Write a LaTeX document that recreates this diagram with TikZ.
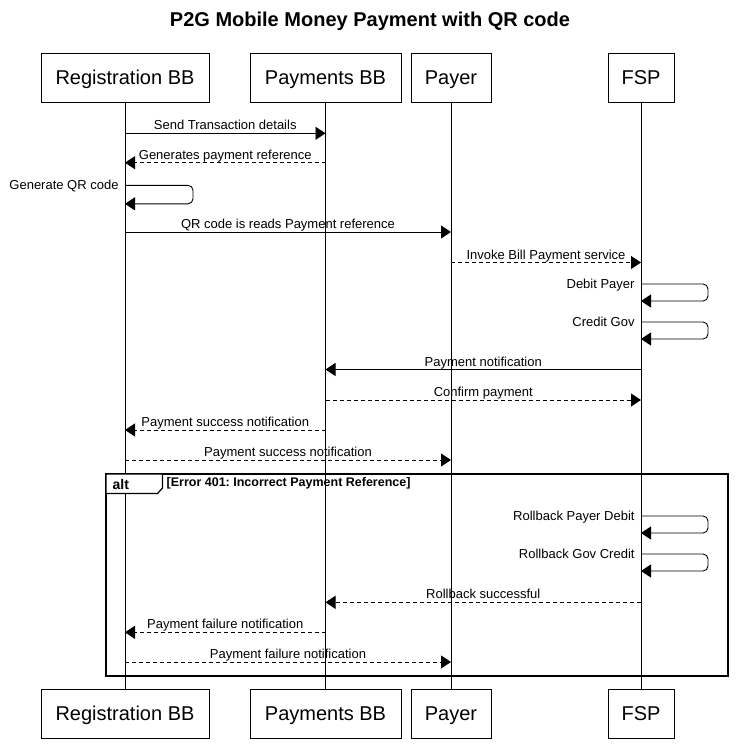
\documentclass[tikz,border=0pt]{standalone}
\usepackage{fontspec}
\setmainfont{Liberation Sans}
\usetikzlibrary{arrows.meta}
\frenchspacing
\begin{document}
\begin{tikzpicture}[x=1pt,y=-1pt,
  part/.style={draw, line width=0.9pt, minimum height=49pt, inner sep=0pt, text height=16.5pt, text depth=3.5pt, font=\fontsize{20}{24}\selectfont},
  life/.style={line width=0.9pt},
  msg/.style={line width=0.9pt, -{Triangle[length=10pt,width=13pt]}},
  reply/.style={msg, dash pattern=on 4pt off 3pt},
  lbl/.style={anchor=base, yshift=3.5pt, inner sep=0pt, font=\fontsize{13}{15}\selectfont},
  slbl/.style={anchor=base east, inner sep=0pt, xshift=-6pt, yshift=-4.5pt, font=\fontsize{13}{15}\selectfont},
  selfmsg/.style={msg, rounded corners=5pt},
  frame/.style={line width=1.6pt},
]
\useasboundingbox (0,0) rectangle (738,748);
\node[font=\bfseries\fontsize{20}{24}\selectfont, inner sep=0pt] (title) at (370,21.5) {P2G Mobile Money Payment with QR code};

% participants
\node[part, minimum width=168pt] (reg) at (125,77.5) {Registration BB};
\node[part, minimum width=151pt] (pay) at (325.5,77.5) {Payments BB};
\node[part, minimum width=80pt] (payer) at (451,77.5) {Payer};
\node[part, minimum width=66pt] (fsp) at (641,77.5) {FSP};
\node[part, minimum width=168pt] (regb) at (125,713.5) {Registration BB};
\node[part, minimum width=151pt] (payb) at (325.5,713.5) {Payments BB};
\node[part, minimum width=80pt] (payerb) at (451,713.5) {Payer};
\node[part, minimum width=66pt] (fspb) at (641,713.5) {FSP};

% lifelines
\draw[life] (reg) -- (regb);
\draw[life] (pay) -- (payb);
\draw[life] (payer) -- (payerb);
\draw[life] (fsp) -- (fspb);

% alt frame
\draw[frame] (106,474) rectangle (728,676);
\draw[line width=1.2pt, fill=white] (106,474) -- (162.5,474) -- (162.5,488) -- (157.5,493.5) -- (106,493.5) -- cycle;
\node[anchor=base west, inner sep=0pt, font=\bfseries\fontsize{14}{16}\selectfont] (altlbl) at (112.5,489) {alt};
\node[anchor=base west, inner sep=0pt, font=\bfseries\fontsize{12.5}{15}\selectfont] (cond) at (166.5,486.5) {[Error 401: Incorrect Payment Reference]};

% messages
\draw[msg] (reg |- 0,133.3) -- node[lbl]{Send Transaction details} (pay |- 0,133.3);
\draw[reply] (pay |- 0,162.7) -- node[lbl]{Generates payment reference} (reg |- 0,162.7);
\draw[selfmsg] (reg |- 0,185.3) node[slbl]{Generate QR code} -- ++(68,0) -- ++(0,18.5) -- (reg |- 0,203.8);
\draw[msg] (reg |- 0,232) -- node[lbl]{QR code is reads Payment reference} (payer |- 0,232);
\draw[reply] (payer |- 0,262.5) -- node[lbl]{Invoke Bill Payment service} (fsp |- 0,262.5);
\draw[selfmsg] (fsp |- 0,284) node[slbl]{Debit Payer} -- ++(67,0) -- ++(0,17) -- (fsp |- 0,301);
\draw[selfmsg] (fsp |- 0,322) node[slbl]{Credit Gov} -- ++(67,0) -- ++(0,17) -- (fsp |- 0,339);
\draw[msg] (fsp |- 0,369.5) -- node[lbl]{Payment notification} (pay |- 0,369.5);
\draw[reply] (pay |- 0,400) -- node[lbl]{Confirm payment} (fsp |- 0,400);
\draw[reply] (pay |- 0,430) -- node[lbl]{Payment success notification} (reg |- 0,430);
\draw[reply] (reg |- 0,460) -- node[lbl]{Payment success notification} (payer |- 0,460);
\draw[selfmsg] (fsp |- 0,516) node[slbl]{Rollback Payer Debit} -- ++(67,0) -- ++(0,17) -- (fsp |- 0,533);
\draw[selfmsg] (fsp |- 0,554) node[slbl]{Rollback Gov Credit} -- ++(67,0) -- ++(0,17) -- (fsp |- 0,571);
\draw[reply] (fsp |- 0,602.3) -- node[lbl]{Rollback successful} (pay |- 0,602.3);
\draw[reply] (pay |- 0,632.3) -- node[lbl]{Payment failure notification} (reg |- 0,632.3);
\draw[reply] (reg |- 0,662) -- node[lbl]{Payment failure notification} (payer |- 0,662);
\end{tikzpicture}
\end{document}
